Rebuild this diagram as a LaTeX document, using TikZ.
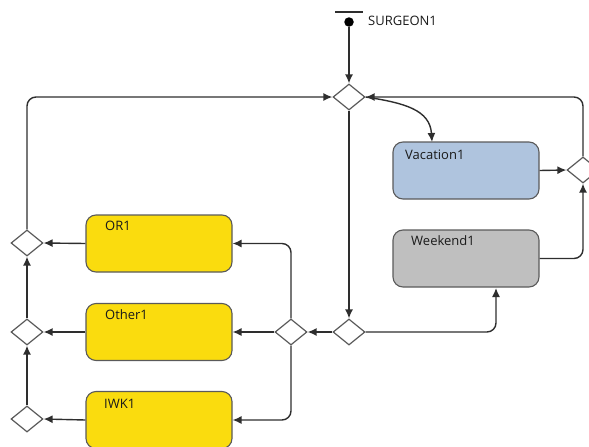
\documentclass[tikz,border=0pt]{standalone}
\usepackage{fontspec}
\setmainfont{Open Sans}
\usetikzlibrary{shapes.geometric,arrows.meta}
\definecolor{boxyellow}{HTML}{FADC0E}
\definecolor{boxblue}{HTML}{AFC4DE}
\definecolor{boxgray}{HTML}{BFBFBF}
\definecolor{edgegray}{HTML}{5A5A5A}
\definecolor{linegray}{HTML}{2E2E2E}
\definecolor{txt}{HTML}{1A1A1A}
\begin{document}
\begin{tikzpicture}[x=1pt,y=-1pt,
  font=\fontsize{13}{15}\selectfont,
  dia/.style={draw=edgegray, fill=white, shape=diamond, minimum width=32pt, minimum height=26pt, inner sep=0pt, line width=1.2pt},
  act/.style={draw=edgegray, rounded corners=10pt, minimum width=146pt, minimum height=57pt, inner sep=0pt, line width=1.1pt},
  lbl/.style={anchor=west, text=txt, inner sep=0pt},
  arr/.style={draw=linegray, line width=1.4pt, -{Latex[length=9pt,width=8pt]}},
  rc/.style={rounded corners=9pt}]
\useasboundingbox (0,0) rectangle (589,447);
\clip (0,0) rectangle (589,447);
% start
\node[fill=linegray, minimum width=28pt, minimum height=2.4pt, inner sep=0pt] (startbar) at (349,12) {};
\node[circle, fill=black, minimum size=9.5pt, inner sep=0pt] (start) at (349,22) {};
\node[lbl] (startlbl) at (368,21) {SURGEON1};
% diamonds
\node[dia] (d1) at (349,97) {};
\node[dia] (dvac) at (583,170) {};
\node[dia] (dm2) at (349,332) {};
\node[dia] (dm1) at (291,332) {};
\node[dia] (dl1) at (27,243) {};
\node[dia] (dl2) at (27,332) {};
\node[dia] (dl3) at (27,419) {};
% activities
\node[act, fill=boxblue] (vac) at (466,170.5) {};
\node[act, fill=boxgray] (wk) at (466,258.5) {};
\node[act, fill=boxyellow] (or) at (159,243.5) {};
\node[act, fill=boxyellow] (oth) at (159,332) {};
\node[act, fill=boxyellow] (iwk) at (159,420) {};
\node[lbl] (vaclbl) at (405,155) {Vacation1};
\node[lbl] (wklbl) at (411,241) {Weekend1};
\node[lbl] (orlbl) at (105,226) {OR1};
\node[lbl] (othlbl) at (105,315) {Other1};
\node[lbl] (iwklbl) at (104,404) {IWK1};
\coordinate (wkin) at (496,288);
\coordinate (vacin) at (432,142);
% connectors
\draw[arr] (start) -- (d1.north);
\draw[arr, rc] (dl1.north) |- (d1.west);
\draw[arr, rc] (dvac.north) |- (d1.east);
\draw[arr] (d1.east) .. controls (405,103) and (430,110) .. (vacin);
\draw[arr] (d1.south) -- (dm2.north);
\draw[arr] (vac.east) -- (dvac.west);
\draw[arr, rc] (wk.east) -| (dvac.south);
\draw[arr, rc] (dm2.east) -| (wkin);
\draw[arr] (dm2.west) -- (dm1.east);
\draw[arr, rc] (dm1.north) |- (or.east);
\draw[arr] (dm1.west) -- (oth.east);
\draw[arr, rc] (dm1.south) |- (iwk.east);
\draw[arr] (or.west) -- (dl1.east);
\draw[arr] (oth.west) -- (dl2.east);
\draw[arr] (iwk.west) -- (dl3.east);
\draw[arr] (dl3.north) -- (dl2.south);
\draw[arr] (dl2.north) -- (dl1.south);
\end{tikzpicture}
\end{document}
